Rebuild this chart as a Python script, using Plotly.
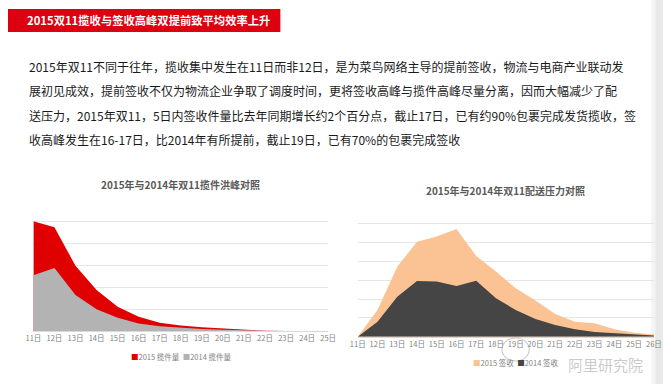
import plotly.graph_objects as go

W, H = 671, 384

# ---------------- data ----------------
left_days = ["11日", "12日", "13日", "14日", "15日", "16日", "17日", "18日",
             "19日", "20日", "21日", "22日", "23日", "24日", "25日"]
pickup_2015 = [5.0, 4.73, 2.98, 1.88, 1.12, 0.66, 0.39, 0.26, 0.18, 0.12, 0.05, 0.02, 0.01, 0.005, 0.0]
pickup_2014 = [2.55, 2.88, 1.65, 1.0, 0.62, 0.36, 0.23, 0.15, 0.10, 0.07, 0.04, 0.02, 0.01, 0.005, 0.0]

right_days = ["11日", "12日", "13日", "14日", "15日", "16日", "17日", "18日",
              "19日", "20日", "21日", "22日", "23日", "24日", "25日", "26日"]
sign_2015 = [0.0, 1.42, 3.72, 5.05, 5.32, 5.73, 4.29, 3.46, 2.57, 1.92, 1.21, 0.80, 0.71, 0.39, 0.21, 0.12]
sign_2014 = [0.0, 0.80, 2.13, 2.96, 2.93, 2.70, 2.98, 2.04, 1.42, 0.94, 0.62, 0.39, 0.25, 0.20, 0.12, 0.06]

title_text = "2015双11揽收与签收高峰双提前致平均效率上升"
para_lines = [
    "2015年双11不同于往年，揽收集中发生在11日而非12日，是为菜鸟网络主导的提前签收，物流与电商产业联动发",
    "展初见成效，提前签收不仅为物流企业争取了调度时间，更将签收高峰与揽件高峰尽量分离，因而大幅减少了配",
    "送压力，2015年双11，5日内签收件量比去年同期增长约2个百分点，截止17日，已有约90%包裹完成发货揽收，签",
    "收高峰发生在16-17日，比2014年有所提前，截止19日，已有70%的包裹完成签收",
]
left_title = "2015年与2014年双11揽件洪峰对照"
right_title = "2015年与2014年双11配送压力对照"

FONT = "Noto Sans CJK SC"
C_RED, C_GRAY, C_PEACH, C_DARK = "#E00000", "#B3B3B3", "#FBC293", "#454545"

def px(x):
    return x / W

def py(y):
    return 1 - y / H

fig = go.Figure()

fig.add_trace(go.Scatter(x=left_days, y=pickup_2015, name="2015 揽件量", mode="lines",
                         fill="tozeroy", fillcolor=C_RED, line=dict(width=0, color=C_RED),
                         xaxis="x", yaxis="y"))
fig.add_trace(go.Scatter(x=left_days, y=pickup_2014, name="2014 揽件量", mode="lines",
                         fill="tozeroy", fillcolor=C_GRAY, line=dict(width=0, color=C_GRAY),
                         xaxis="x", yaxis="y"))
fig.add_trace(go.Scatter(x=right_days, y=sign_2015, name="2015 签收", mode="lines",
                         fill="tozeroy", fillcolor=C_PEACH, line=dict(width=0, color=C_PEACH),
                         xaxis="x2", yaxis="y2"))
fig.add_trace(go.Scatter(x=right_days, y=sign_2014, name="2014 签收", mode="lines",
                         fill="tozeroy", fillcolor=C_DARK, line=dict(width=0, color=C_DARK),
                         xaxis="x2", yaxis="y2"))

axis_common = dict(tickfont=dict(family=FONT, size=7.5, color="#7F7F7F"),
                   showline=True, linecolor="#D9D9D9", linewidth=1,
                   showgrid=False, ticks="", fixedrange=True, tickangle=0)

fig.update_layout(
    width=W, height=H,
    margin=dict(l=0, r=0, t=0, b=0),
    paper_bgcolor="white", plot_bgcolor="rgba(0,0,0,0)",
    font=dict(family=FONT),
    showlegend=False,
    hovermode=False,
    xaxis=dict(domain=[px(26), px(328)], anchor="y", type="category",
               range=[0, len(left_days) - 1], **axis_common),
    yaxis=dict(domain=[py(331.3), py(199.3)], anchor="x", range=[0, 6.001], dtick=1,
               showticklabels=False, showgrid=True, gridcolor="#E6E6E6", gridwidth=1,
               zeroline=False, fixedrange=True),
    xaxis2=dict(domain=[px(358.3), px(661.7)], anchor="y2", type="category",
                range=[0, len(right_days) - 1], **axis_common),
    yaxis2=dict(domain=[py(336.7), py(205)], anchor="x2", range=[0, 7.001], dtick=1,
                showticklabels=False, showgrid=True, gridcolor="#E6E6E6", gridwidth=1,
                zeroline=False, fixedrange=True),
)

shapes = [
    dict(type="rect", xref="paper", yref="paper", x0=0, x1=px(279), y0=py(32), y1=py(9),
         fillcolor="#DD0011", line=dict(width=0), layer="below"),
    dict(type="rect", xref="paper", yref="paper", x0=px(659), x1=px(663), y0=0, y1=1,
         fillcolor="#F4F4F4", line=dict(width=0), layer="below"),
    dict(type="rect", xref="paper", yref="paper", x0=px(663), x1=1, y0=0, y1=1,
         fillcolor="#E9E9E9", line=dict(width=0), layer="below"),
    # faint watermark icon
    dict(type="circle", xref="paper", yref="paper", x0=px(506), x1=px(534), y0=py(361), y1=py(338),
         fillcolor="rgba(0,0,0,0)", line=dict(width=1.2, color="rgba(170,170,170,0.6)"), layer="above"),
]

annotations = [
    dict(text=f"<b>{title_text}</b>", x=px(17), y=py(20.5), xref="paper", yref="paper",
         xanchor="left", yanchor="middle", showarrow=False,
         font=dict(family=FONT, size=11.3, color="white")),
    dict(text=f"<b>{left_title}</b>", x=px(177), y=py(185), xref="paper", yref="paper",
         xanchor="center", yanchor="middle", showarrow=False,
         font=dict(family=FONT, size=10, color="#595959")),
    dict(text=f"<b>{right_title}</b>", x=px(510), y=py(190), xref="paper", yref="paper",
         xanchor="center", yanchor="middle", showarrow=False,
         font=dict(family=FONT, size=10, color="#595959")),
    # legends
    dict(text=f"<span style='color:{C_RED}'>■</span>{fig.data[0].name}&nbsp;&nbsp;"
              f"<span style='color:{C_GRAY}'>■</span>{fig.data[1].name}",
         x=px(178), y=py(356), xref="paper", yref="paper", xanchor="center", yanchor="middle",
         showarrow=False, font=dict(family=FONT, size=7.5, color="#7F7F7F")),
    dict(text=f"<span style='color:{C_PEACH}'>■</span>{fig.data[2].name}&nbsp;&nbsp;"
              f"<span style='color:{C_DARK}'>■</span>{fig.data[3].name}",
         x=px(520), y=py(362), xref="paper", yref="paper", xanchor="center", yanchor="middle",
         showarrow=False, font=dict(family=FONT, size=7.5, color="#7F7F7F")),
    # watermark
    dict(text="阿里研究院", x=px(612), y=py(364), xref="paper", yref="paper",
         xanchor="center", yanchor="middle", showarrow=False,
         font=dict(family=FONT, size=15, color="rgba(150,150,150,0.5)")),
]
for i, line in enumerate(para_lines):
    annotations.append(dict(text=line, x=px(19), y=py(67 + 24 * i), xref="paper", yref="paper",
                            xanchor="left", yanchor="middle", showarrow=False,
                            font=dict(family=FONT, size=12, color="#1a1a1a")))

fig.update_layout(shapes=shapes, annotations=annotations)

fig.write_html("out.html", config={"displayModeBar": False, "staticPlot": True},
               post_script="document.body.style.margin='0';document.body.style.overflow='hidden';")
